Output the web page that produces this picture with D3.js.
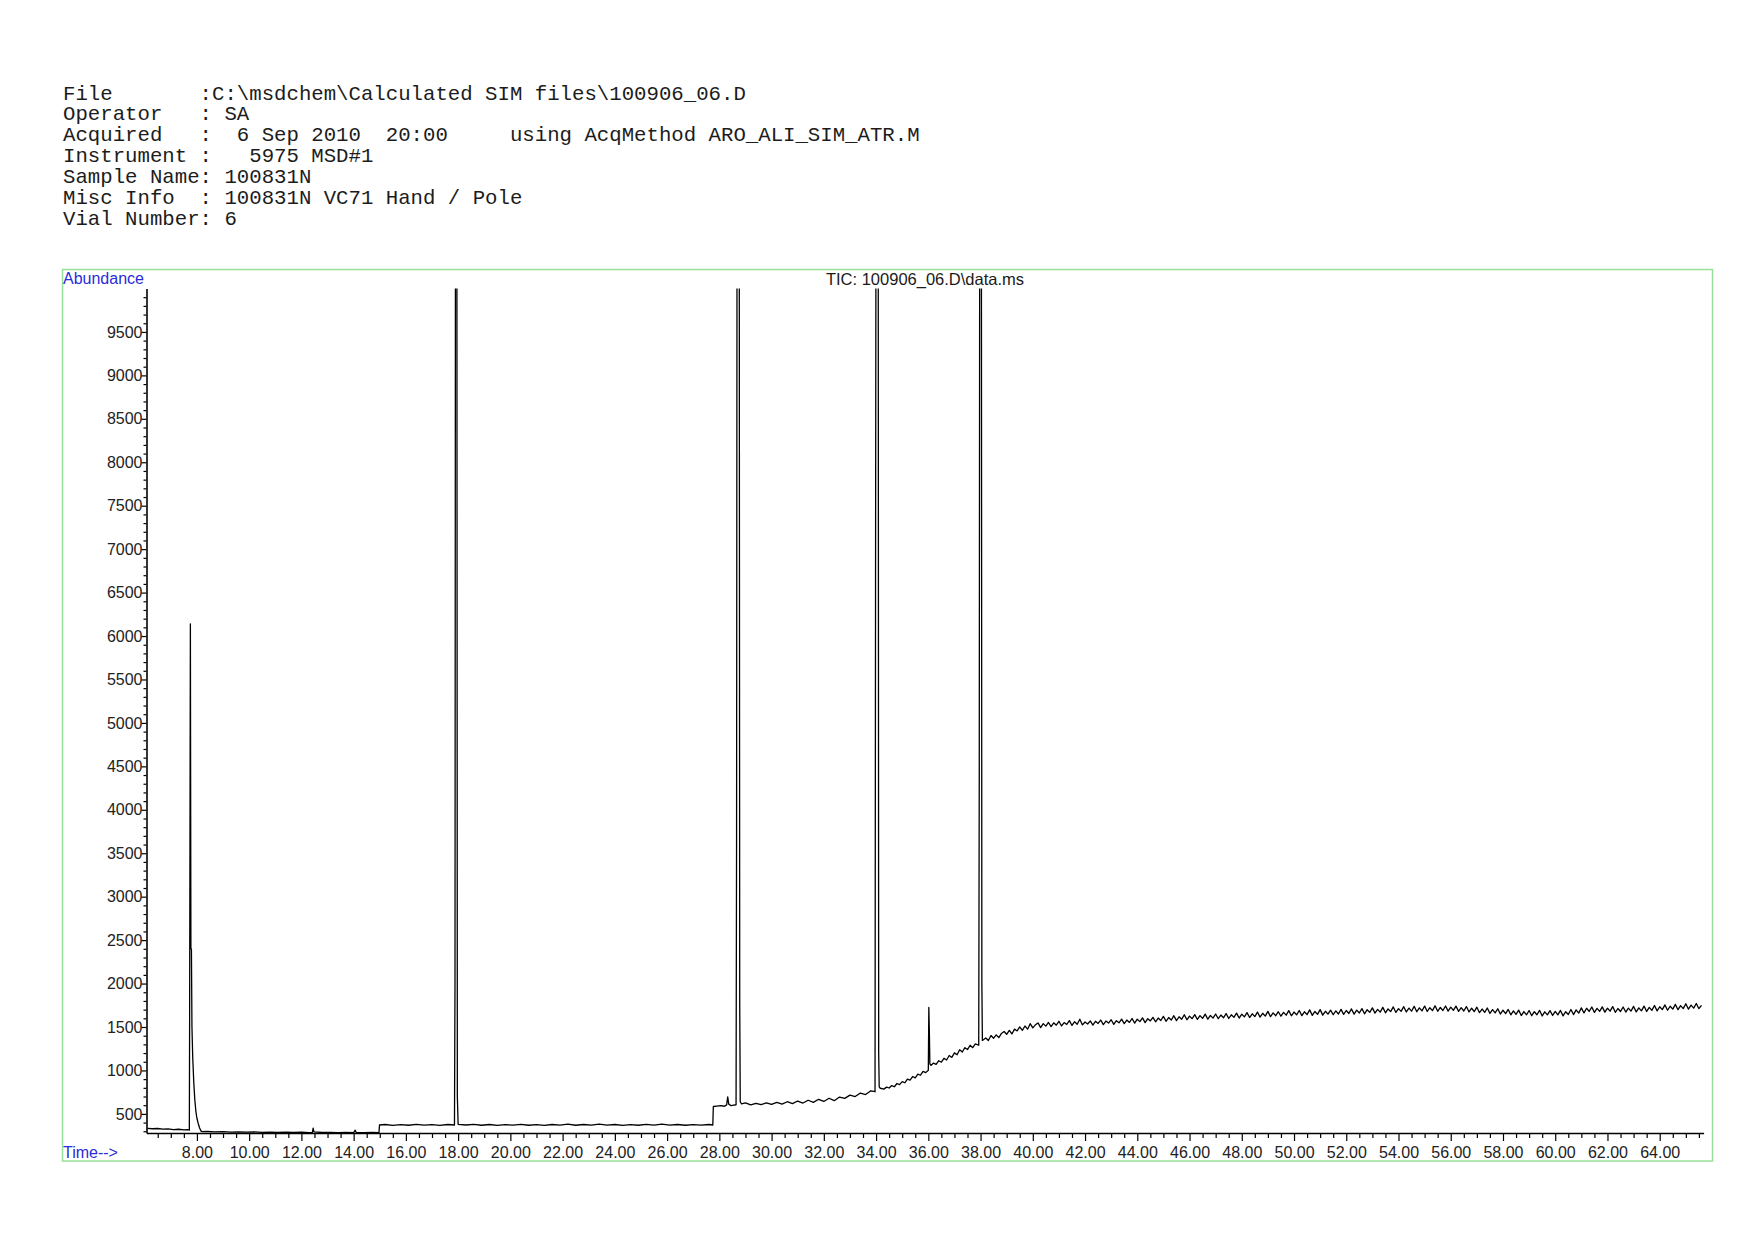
<!DOCTYPE html>
<html><head><meta charset="utf-8">
<script src="https://cdn.jsdelivr.net/npm/d3@7"></script>
<style>
html,body{margin:0;padding:0;background:#fff;}
svg{display:block;}
</style></head>
<body>
<svg id="chart" width="1754" height="1240"></svg>
<script>
// ---------- header text ----------
const headerLines = [
  "File       :C:\\msdchem\\Calculated SIM files\\100906_06.D",
  "Operator   : SA",
  "Acquired   :  6 Sep 2010  20:00     using AcqMethod ARO_ALI_SIM_ATR.M",
  "Instrument :   5975 MSD#1",
  "Sample Name: 100831N",
  "Misc Info  : 100831N VC71 Hand / Pole",
  "Vial Number: 6"
];
const chartTitle = "TIC: 100906_06.D\\data.ms";
const yAxisTitle = "Abundance";
const xAxisTitle = "Time-->";

// ---------- axis ticks ----------
const yMajorTicks = [500,1000,1500,2000,2500,3000,3500,4000,4500,5000,5500,6000,6500,7000,7500,8000,8500,9000,9500];
const xMajorTicks = [8,10,12,14,16,18,20,22,24,26,28,30,32,34,36,38,40,42,44,46,48,50,52,54,56,58,60,62,64];
const timeDomain = [6.07, 65.68];
const abundanceDomain = [280, 10000];

// ---------- TIC trace: [time (min), abundance] ----------
const ticEarly = [
  [6.10,334],[6.30,329],[6.50,332],[6.70,324],[6.90,327],[7.10,320],[7.30,323],[7.50,316],[7.65,318],[7.71,314],
  [7.72,1460],[7.75,6140],[7.77,2410],[7.79,2390],[7.81,1500],[7.84,1150],[7.88,860],[7.92,660],[7.96,530],[8.00,450],[8.05,390],[8.10,340],[8.15,305],[8.20,296],
  [8.4,297],[8.7,293],[9.0,296],[9.3,291],[9.6,294],[9.9,289],[10.2,292],[10.5,288],[10.8,291],[11.1,287],[11.4,290],[11.7,286],[12.0,289],[12.3,285],[12.42,288],[12.45,335],[12.48,292],[12.8,286],[13.1,288],[13.4,284],[13.7,287],[14.0,284],[14.06,312],[14.1,286],[14.4,284],[14.7,286],[14.97,285],
  [14.99,372],[15.2,378],[15.5,368],[15.8,377],[16.1,369],[16.4,379],[16.7,370],[17.0,376],[17.3,368],[17.6,378],[17.86,372],
  [17.88,1990],[17.90,12000],[17.95,12000],[17.97,700],[18.00,380],
  [18.3,372],[18.6,379],[18.9,369],[19.2,378],[19.5,368],[19.8,377],[20.1,370],[20.4,380],[20.7,369],[21.0,377],[21.3,367],[21.6,378],[21.9,370],[22.2,381],[22.5,369],[22.8,378],[23.1,371],[23.4,382],[23.7,370],[24.0,378],[24.3,368],[24.6,377],[24.9,369],[25.2,379],[25.5,370],[25.8,382],[26.1,371],[26.4,378],[26.7,369],[27.0,377],[27.3,370],[27.6,378],[27.75,372]
];
const ticMiddle = [
  [27.77,585],[27.9,590],[28.05,596],[28.2,588],[28.28,604],[28.32,695],[28.36,612],[28.45,594],[28.55,602],[28.64,605],
  [28.66,3720],[28.68,12000],[28.76,12000],[28.78,1800],[28.80,640],[28.85,615],
  [29.0,626],[29.2,604],[29.4,622],[29.6,606],[29.8,627],[30.0,609],[30.2,633],[30.4,612],[30.6,640],[30.8,618],[31.0,648],[31.2,625],[31.4,657],[31.6,633],[31.8,668],[32.0,643],[32.2,680],[32.4,652],[32.6,694],[32.8,678],[33.0,716],[33.2,700],[33.4,740],[33.6,722],[33.8,766],[33.96,755],
  [33.98,6610],[34.00,12000],[34.08,12000],[34.10,1200],[34.12,810],[34.16,795],
  [34.3,785],[34.4,808],[34.5,798],[34.6,826],[34.7,812],[34.8,850],[34.9,836],[35.0,872],[35.1,858],[35.2,900],[35.3,888],[35.4,930],[35.5,915],[35.6,958],[35.7,945],[35.8,990],[35.9,975],[36.0,1002],
  [36.02,1725],[36.04,1445],[36.06,1075],
  [36.1,1058],[36.2,1085],[36.3,1070],[36.4,1112],[36.5,1095],[36.6,1140],[36.7,1120],[36.8,1172],[36.9,1150],[37.0,1202],[37.1,1180],[37.2,1238],[37.3,1212],[37.4,1262],[37.5,1240],[37.6,1290],[37.7,1262],[37.8,1306],[37.93,1290],
  [37.95,4340],[37.97,12000],[38.03,12000],[38.05,2000],[38.07,1345]
];
const ticLate = [
  [38.2,1373],[38.3,1344],[38.4,1402],[38.5,1371],[38.6,1410],[38.7,1378],[38.8,1426],[38.9,1448],[39.0,1416],
  [39.1,1461],[39.2,1420],[39.3,1476],[39.4,1455],[39.5,1501],[39.6,1462],[39.7,1512],[39.8,1475],[39.9,1538],[40.0,1490],
  [40.1,1525],[40.2,1547],[40.3,1493],[40.4,1539],[40.5,1510],[40.6,1552],[40.7,1504],[40.8,1548],[40.9,1521],[41.0,1566],
  [41.1,1512],[41.2,1551],[41.3,1529],[41.4,1573],[41.5,1518],[41.6,1561],[41.7,1532],[41.8,1590],[41.9,1524],[42.0,1558],
  [42.1,1535],[42.2,1570],[42.3,1522],[42.4,1566],[42.5,1541],[42.6,1580],[42.7,1527],[42.8,1569],[42.9,1545],[43.0,1584],
  [43.1,1530],[43.2,1573],[43.3,1548],[43.4,1591],[43.5,1539],[43.6,1580],[43.7,1553],[43.8,1598],[43.9,1544],[44.0,1590],
  [44.1,1562],[44.2,1605],[44.3,1551],[44.4,1596],[44.5,1570],[44.6,1611],[44.7,1560],[44.8,1603],[44.9,1575],[45.0,1622],
  [45.1,1566],[45.2,1609],[45.3,1580],[45.4,1630],[45.5,1574],[45.6,1618],[45.7,1589],[45.8,1641],[45.9,1583],[46.0,1625],
  [46.1,1596],[46.2,1642],[46.3,1588],[46.4,1631],[46.5,1599],[46.6,1648],[46.7,1590],[46.8,1633],[46.9,1602],[47.0,1650],
  [47.1,1595],[47.2,1638],[47.3,1606],[47.4,1655],[47.5,1598],[47.6,1641],[47.7,1611],[47.8,1660],[47.9,1603],[48.0,1647],
  [48.1,1617],[48.2,1666],[48.3,1609],[48.4,1652],[48.5,1620],[48.6,1672],[48.7,1614],[48.8,1658],[48.9,1625],[49.0,1680],
  [49.1,1619],[49.2,1662],[49.3,1630],[49.4,1676],[49.5,1624],[49.6,1669],[49.7,1636],[49.8,1688],[49.9,1629],[50.0,1672],
  [50.1,1640],[50.2,1690],[50.3,1631],[50.4,1675],[50.5,1642],[50.6,1697],[50.7,1634],[50.8,1679],[50.9,1646],[51.0,1700],
  [51.1,1637],[51.2,1681],[51.3,1648],[51.4,1694],[51.5,1641],[51.6,1686],[51.7,1650],[51.8,1703],[51.9,1645],[52.0,1690],
  [52.1,1656],[52.2,1708],[52.3,1648],[52.4,1695],[52.5,1661],[52.6,1712],[52.7,1652],[52.8,1699],[52.9,1668],[53.0,1720],
  [53.1,1660],[53.2,1703],[53.3,1671],[53.4,1726],[53.5,1663],[53.6,1708],[53.7,1677],[53.8,1731],[53.9,1668],[54.0,1712],
  [54.1,1680],[54.2,1734],[54.3,1673],[54.4,1717],[54.5,1682],[54.6,1738],[54.7,1676],[54.8,1720],[54.9,1685],[55.0,1741],
  [55.1,1679],[55.2,1722],[55.3,1688],[55.4,1745],[55.5,1681],[55.6,1725],[55.7,1690],[55.8,1742],[55.9,1683],[56.0,1728],
  [56.1,1692],[56.2,1740],[56.3,1680],[56.4,1722],[56.5,1684],[56.6,1735],[56.7,1673],[56.8,1716],[56.9,1677],[57.0,1728],
  [57.1,1665],[57.2,1707],[57.3,1669],[57.4,1719],[57.5,1656],[57.6,1700],[57.7,1662],[57.8,1710],[57.9,1649],[58.0,1693],
  [58.1,1653],[58.2,1702],[58.3,1640],[58.4,1686],[58.5,1646],[58.6,1694],[58.7,1632],[58.8,1678],[58.9,1640],[59.0,1690],
  [59.1,1630],[59.2,1676],[59.3,1641],[59.4,1692],[59.5,1627],[59.6,1675],[59.7,1640],[59.8,1688],[59.9,1633],[60.0,1679],
  [60.1,1639],[60.2,1691],[60.3,1628],[60.4,1676],[60.5,1644],[60.6,1702],[60.7,1643],[60.8,1697],[60.9,1660],[61.0,1720],
  [61.1,1662],[61.2,1716],[61.3,1679],[61.4,1730],[61.5,1668],[61.6,1714],[61.7,1680],[61.8,1732],[61.9,1671],[62.0,1716],
  [62.1,1682],[62.2,1735],[62.3,1669],[62.4,1713],[62.5,1679],[62.6,1730],[62.7,1672],[62.8,1718],[62.9,1683],[63.0,1737],
  [63.1,1674],[63.2,1720],[63.3,1686],[63.4,1741],[63.5,1679],[63.6,1726],[63.7,1692],[63.8,1748],[63.9,1686],[64.0,1733],
  [64.1,1700],[64.2,1754],[64.3,1693],[64.4,1739],[64.5,1706],[64.6,1760],[64.7,1699],[64.8,1746],[64.9,1712],[65.0,1768],
  [65.1,1705],[65.2,1752],[65.3,1718],[65.4,1771],[65.5,1711],[65.6,1750]
];

// ---------- drawing ----------
const svg = d3.select("#chart");
const frame = {x: 62.5, y: 269.5, w: 1650, h: 891.5};
const plot = {left: 146.5, right: 1703.6, top: 288.5, bottom: 1133};

const x = d3.scaleLinear().domain(timeDomain).range([plot.left, plot.right]);
const y = d3.scaleLinear().domain(abundanceDomain).range([plot.bottom, plot.top]);

// header
const hdr = svg.append("g")
  .attr("font-family", "'Liberation Mono','DejaVu Sans Mono',monospace")
  .attr("font-size", 20.7)
  .attr("fill", "#1c1c1c");
hdr.selectAll("text").data(headerLines).join("text")
  .attr("x", 63)
  .attr("y", (d, i) => 99.5 + i * 20.9)
  .attr("xml:space", "preserve")
  .style("white-space", "pre")
  .text(d => d);

// frame
svg.append("rect")
  .attr("x", frame.x).attr("y", frame.y).attr("width", frame.w).attr("height", frame.h)
  .attr("fill", "none").attr("stroke", "#98e098").attr("stroke-width", 1.5);

const sans = "'Liberation Sans', Arial, sans-serif";

svg.append("text").attr("x", 63).attr("y", 284)
  .attr("font-family", sans).attr("font-size", 16).attr("fill", "#2b2bd9")
  .text(yAxisTitle);
svg.append("text").attr("x", 63).attr("y", 1158)
  .attr("font-family", sans).attr("font-size", 16).attr("fill", "#2b2bd9")
  .text(xAxisTitle);
svg.append("text").attr("x", 925).attr("y", 285).attr("text-anchor", "middle")
  .attr("font-family", sans).attr("font-size", 16.5).attr("fill", "#1a1a1a")
  .text(chartTitle);

// y axis
const yMinor = d3.range(300, 10000, 100).filter(v => v % 500 !== 0);
const gyMinor = svg.append("g").attr("transform", `translate(${plot.left},0)`)
  .call(d3.axisLeft(y).tickValues(yMinor).tickSize(3).tickFormat(""));
gyMinor.select(".domain").remove();
const gy = svg.append("g").attr("transform", `translate(${plot.left},0)`)
  .call(d3.axisLeft(y).tickValues(yMajorTicks).tickSize(5).tickSizeOuter(0).tickPadding(-1).tickFormat(d3.format("d")));
gy.selectAll("text").attr("font-family", sans).attr("font-size", 16).attr("fill", "#222");

// x axis
const xMinor = d3.range(6.5, 65.7, 0.5).filter(v => Math.abs(v / 2 - Math.round(v / 2)) > 1e-6);
const gxMinor = svg.append("g").attr("transform", `translate(0,${plot.bottom})`)
  .call(d3.axisBottom(x).tickValues(xMinor).tickSize(5).tickFormat(""));
gxMinor.select(".domain").remove();
const gx = svg.append("g").attr("transform", `translate(0,${plot.bottom})`)
  .call(d3.axisBottom(x).tickValues(xMajorTicks).tickSize(8).tickSizeOuter(0).tickPadding(6).tickFormat(d3.format(".2f")));
gx.selectAll("text").attr("font-family", sans).attr("font-size", 16).attr("fill", "#222");

svg.selectAll(".domain").attr("stroke", "#000").attr("stroke-width", 1.6);
svg.selectAll(".tick line").attr("stroke", "#000").attr("stroke-width", 1.2);

// trace
svg.append("clipPath").attr("id", "plotClip").append("rect")
  .attr("x", plot.left).attr("y", plot.top).attr("width", plot.right - plot.left).attr("height", plot.bottom - plot.top);

const tic = ticEarly.concat(ticMiddle, ticLate);
const line = d3.line().x(d => x(d[0])).y(d => y(d[1]));
svg.append("path")
  .datum(tic)
  .attr("clip-path", "url(#plotClip)")
  .attr("d", line)
  .attr("fill", "none").attr("stroke", "#000").attr("stroke-width", 1.3).attr("stroke-linejoin", "round");
</script>
</body></html>
